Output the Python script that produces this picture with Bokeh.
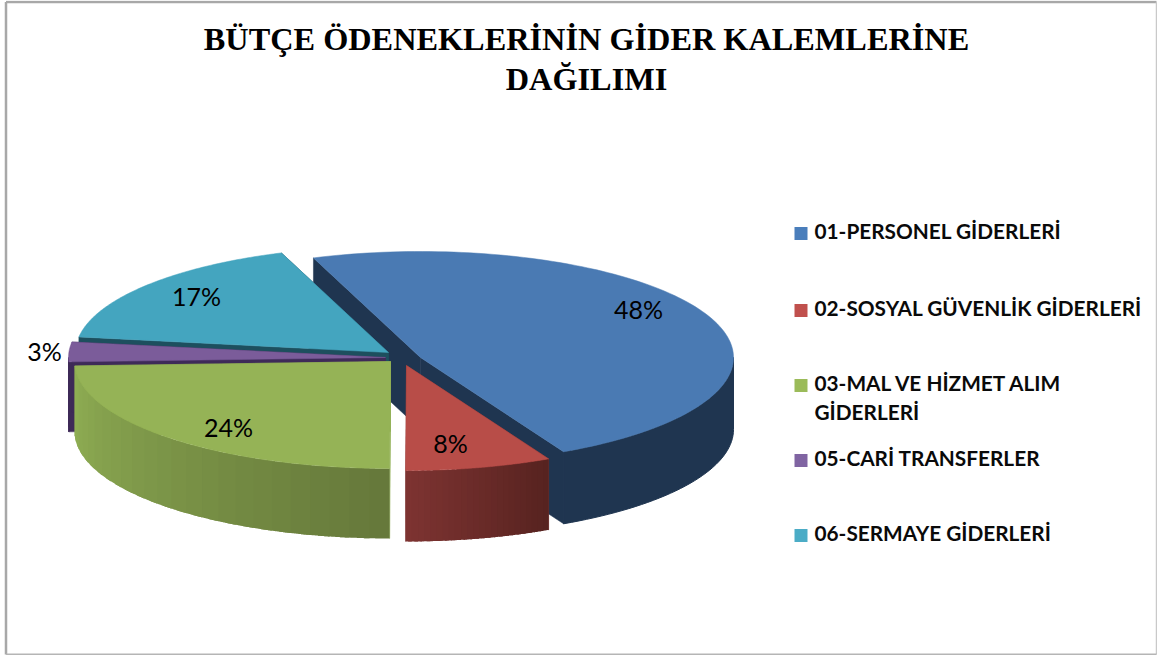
import numpy as np
from bokeh.plotting import figure
from bokeh.models import Range1d
from bokeh.core.properties import value
from bokeh.embed import file_html
from bokeh.resources import INLINE

title_lines = ["BÜTÇE ÖDENEKLERİNİN GİDER KALEMLERİNE", "DAĞILIMI"]
categories = ["01-PERSONEL GİDERLERİ", "02-SOSYAL GÜVENLİK GİDERLERİ",
              "03-MAL VE HİZMET ALIM\nGİDERLERİ", "05-CARİ TRANSFERLER", "06-SERMAYE GİDERLERİ"]
shares = [48.0, 7.6, 24.3, 3.0, 17.1]
top_colors = ["#4a7ab3", "#b84d48", "#95b356", "#7b5c9a", "#44a5bf"]
legend_colors = ["#4a7ebb", "#c0504d", "#9bbb59", "#8064a2", "#4bacc6"]
wall_left = ["#1f3550", "#7d3331", "#8fae53", "#3e2a58", "#1d4f5e"]
wall_right = ["#1f3550", "#572320", "#66793b", "#3e2a58", "#1d4f5e"]

# exploded slice geometry (apex x, apex y, semi-axis a, semi-axis b, depth)
apex = [(420, 357, 313, 106, 72), (406, 365, 311, 105, 71), (390, 361, 316, 107, 70),
        (385, 357, 317, 106, 70), (388, 352, 313, 106, 70)]
draw_order = [0, 4, 3, 2, 1]
label_pos = [(638, 308), (450, 442), (228, 426), (44, 350), (196, 295)]
legend_y = [232, 309, 384, 459, 534]

p = figure(width=1157, height=655, x_range=Range1d(0, 1157), y_range=Range1d(655, 0),
           x_axis_type=None, y_axis_type=None, toolbar_location=None, output_backend="svg",
           min_border=0, background_fill_color="white", outline_line_color=None)
p.grid.visible = False


def hex2rgb(c):
    return np.array([int(c[i:i + 2], 16) for i in (1, 3, 5)], dtype=float)


def mix(c1, c2, f):
    r = hex2rgb(c1) * (1 - f) + hex2rgb(c2) * f
    return "#%02x%02x%02x" % tuple(int(round(v)) for v in r)


edges = np.cumsum([0] + shares) * 3.6 - 20.0

for i in draw_order:
    cx, cy, a, b, d = apex[i]
    t0, t1 = np.radians(edges[i]), np.radians(edges[i + 1])
    rim = lambda t: (cx + a * np.sin(t), cy - b * np.cos(t))
    # cut faces
    for t in (t0, t1):
        rx, ry = rim(t)
        p.patch([cx, rx, rx, cx], [cy, ry, ry + d, cy + d], fill_color=wall_left[i],
                line_color=wall_left[i], line_width=0.5)
    # outer wall on its front part: one patch per shade band, each overlapping the next
    lo, hi = max(edges[i], 90.0), min(edges[i + 1], 270.0)
    if hi > lo:
        n = 1 if wall_left[i] == wall_right[i] else 24
        steps = np.radians(np.linspace(lo, hi, n + 1))
        for k in range(n):
            seg = np.linspace(steps[k], steps[n if k == n - 1 else k + 1] + (steps[1] - steps[0]) * (k < n - 1) * 0.6, 40)
            xs, ys = rim(seg)
            col = mix(wall_left[i], wall_right[i], 1 - k / max(n - 1, 1))
            p.patch(list(xs) + list(xs[::-1]), list(ys) + list((ys + d)[::-1]),
                    fill_color=col, line_color=col if n == 1 else None, line_width=1)
    # top
    tt = np.linspace(t0, t1, 120)
    xs, ys = rim(tt)
    p.patch([cx] + list(xs), [cy] + list(ys), fill_color=top_colors[i], line_color=top_colors[i],
            line_width=0.5)

# data labels
for i, s in enumerate(shares):
    x, y = label_pos[i]
    p.text([x], [y], text=[f"{s:.0f}%"], text_font=value("Lato"), text_font_size="25px",
           text_color="black", text_align="center", text_baseline="middle")

# legend
for i, c in enumerate(categories):
    y = legend_y[i]
    p.scatter([800.5], [legend_y[i] + 1], marker="square", size=13, fill_color=legend_colors[i], line_color=None)
    for j, line in enumerate(c.split("\n")):
        p.text([814], [y - 2 + j * 29], text=[line], text_font=value("Lato"), text_font_size="20.8px",
               text_font_style="bold", text_color="#0a0a0a", text_align="left", text_baseline="middle")

# title
for j, line in enumerate(title_lines):
    p.text([586], [38 + j * 40], text=[line], text_font=value("Liberation Serif"), text_font_size="32.3px",
           text_font_style="bold", text_color="black", text_align="center", text_baseline="middle")

# frame
p.line([5.5, 1156], [1.5, 1.5], line_color="#a8a8a8", line_width=2.5)
p.line([5.5, 5.5], [1.5, 654], line_color="#a8a8a8", line_width=2.5)
p.line([1156, 1156], [1.5, 654], line_color="#c9c9c9", line_width=1.5)
p.line([5.5, 1156], [654, 654], line_color="#b5b5b5", line_width=2)

open("out.html", "w").write(file_html(p, INLINE))
